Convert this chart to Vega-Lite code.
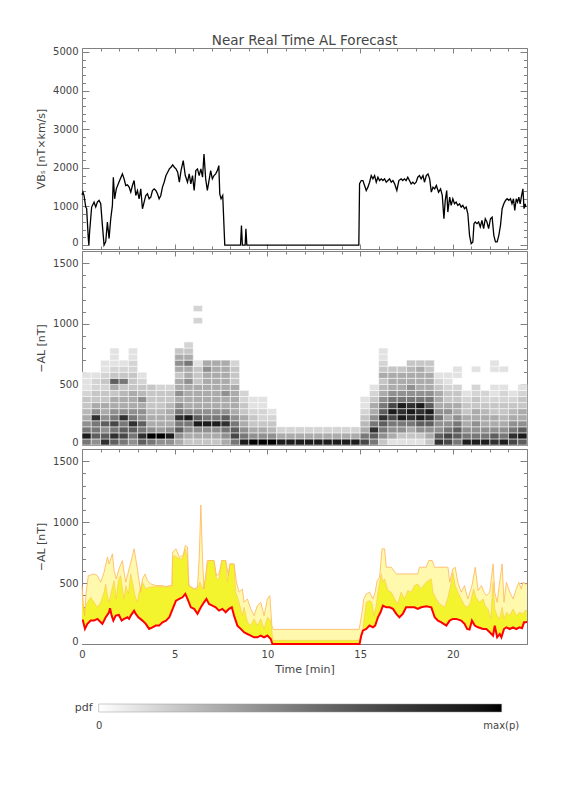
{
"$schema": "https://vega.github.io/schema/vega-lite/v6.json",
"background": "white",
"padding": {"left": 35, "top": 33, "right": 5, "bottom": 5},
"spacing": 0,
"config": {
  "font": "DejaVu Sans",
  "view": {"stroke": "#808080", "strokeWidth": 1},
  "axis": {"domain": false, "grid": false, "labelFont": "DejaVu Sans", "labelFontSize": 10, "labelColor": "#444", "tickColor": "#808080", "tickWidth": 1, "titleFont": "DejaVu Sans", "titleFontWeight": "normal", "titleFontSize": 11, "titleColor": "#444", "labelFlush": false, "labelOverlap": false, "zindex": 1},
  "title": {"font": "DejaVu Sans", "fontSize": 13.5, "fontWeight": "normal", "color": "#444"}
},
"datasets": {
  "vbs": [
    {"t":0,"v":1300},{"t":0.05,"v":1371},{"t":0.11,"v":1285},{"t":0.2,"v":985},{"t":0.25,"v":950},{"t":0.34,"v":170},{"t":0.37,"v":0},{"t":0.41,"v":340},{"t":0.52,"v":985},{"t":0.65,"v":1113},{"t":0.74,"v":985},{"t":0.83,"v":1113},{"t":0.92,"v":1156},{"t":1.01,"v":1070},{"t":1.1,"v":510},{"t":1.19,"v":0},{"t":1.28,"v":90},{"t":1.37,"v":600},{"t":1.46,"v":170},{"t":1.55,"v":683},{"t":1.64,"v":1027},{"t":1.69,"v":1757},{"t":1.76,"v":1199},{"t":1.85,"v":1456},{"t":1.99,"v":1628},{"t":2.18,"v":1843},{"t":2.27,"v":1714},{"t":2.36,"v":1542},{"t":2.45,"v":1560},{"t":2.54,"v":1500},{"t":2.63,"v":1371},{"t":2.72,"v":1542},{"t":2.81,"v":1671},{"t":2.9,"v":1285},{"t":2.99,"v":1414},{"t":3.08,"v":1199},{"t":3.17,"v":1456},{"t":3.26,"v":942},{"t":3.35,"v":1113},{"t":3.44,"v":1285},{"t":3.53,"v":1328},{"t":3.62,"v":1199},{"t":3.71,"v":1242},{"t":3.8,"v":1414},{"t":3.89,"v":1456},{"t":3.98,"v":1414},{"t":4.07,"v":1328},{"t":4.16,"v":1199},{"t":4.25,"v":1285},{"t":4.34,"v":1500},{"t":4.43,"v":1628},{"t":4.53,"v":1800},{"t":4.62,"v":1886},{"t":4.71,"v":1972},{"t":4.8,"v":2015},{"t":4.89,"v":2075},{"t":4.98,"v":2015},{"t":5.07,"v":1972},{"t":5.16,"v":1886},{"t":5.25,"v":1628},{"t":5.34,"v":1929},{"t":5.46,"v":2187},{"t":5.57,"v":1800},{"t":5.69,"v":1628},{"t":5.78,"v":1843},{"t":5.87,"v":1585},{"t":5.96,"v":1800},{"t":6.05,"v":1414},{"t":6.14,"v":1929},{"t":6.23,"v":1972},{"t":6.32,"v":1800},{"t":6.41,"v":1972},{"t":6.5,"v":1757},{"t":6.58,"v":2358},{"t":6.67,"v":1714},{"t":6.76,"v":1414},{"t":6.85,"v":1671},{"t":6.94,"v":1929},{"t":7.03,"v":1714},{"t":7.12,"v":1800},{"t":7.21,"v":1843},{"t":7.3,"v":1929},{"t":7.38,"v":2058},{"t":7.43,"v":1328},{"t":7.5,"v":1199},{"t":7.59,"v":1285},{"t":7.7,"v":0},{"t":8.55,"v":0},{"t":8.6,"v":510},{"t":8.65,"v":0},{"t":8.8,"v":0},{"t":8.84,"v":425},{"t":8.89,"v":0},{"t":14.93,"v":0},{"t":14.97,"v":1588},{"t":15.06,"v":1671},{"t":15.15,"v":1671},{"t":15.24,"v":1542},{"t":15.33,"v":1414},{"t":15.42,"v":1500},{"t":15.51,"v":1628},{"t":15.6,"v":1800},{"t":15.69,"v":1714},{"t":15.78,"v":1800},{"t":15.87,"v":1628},{"t":15.96,"v":1757},{"t":16.05,"v":1671},{"t":16.14,"v":1714},{"t":16.23,"v":1671},{"t":16.32,"v":1714},{"t":16.41,"v":1628},{"t":16.5,"v":1671},{"t":16.59,"v":1714},{"t":16.68,"v":1628},{"t":16.77,"v":1671},{"t":16.86,"v":1585},{"t":16.98,"v":1414},{"t":17.09,"v":1671},{"t":17.21,"v":1714},{"t":17.3,"v":1671},{"t":17.39,"v":1714},{"t":17.48,"v":1671},{"t":17.57,"v":1757},{"t":17.66,"v":1671},{"t":17.75,"v":1585},{"t":17.84,"v":1628},{"t":17.93,"v":1585},{"t":18.02,"v":1628},{"t":18.11,"v":1757},{"t":18.2,"v":1800},{"t":18.29,"v":1714},{"t":18.39,"v":1800},{"t":18.47,"v":1628},{"t":18.57,"v":1800},{"t":18.66,"v":1843},{"t":18.75,"v":1714},{"t":18.84,"v":1371},{"t":18.93,"v":1500},{"t":19.02,"v":1456},{"t":19.11,"v":1542},{"t":19.23,"v":1371},{"t":19.34,"v":1456},{"t":19.43,"v":1285},{"t":19.52,"v":683},{"t":19.59,"v":1156},{"t":19.67,"v":1414},{"t":19.73,"v":855},{"t":19.83,"v":1242},{"t":19.91,"v":1027},{"t":20.0,"v":1199},{"t":20.09,"v":1070},{"t":20.18,"v":1113},{"t":20.27,"v":1027},{"t":20.36,"v":1070},{"t":20.45,"v":985},{"t":20.54,"v":1027},{"t":20.63,"v":942},{"t":20.72,"v":985},{"t":20.81,"v":812},{"t":20.9,"v":254},{"t":20.99,"v":39},{"t":21.08,"v":82},{"t":21.14,"v":555},{"t":21.21,"v":597},{"t":21.3,"v":555},{"t":21.39,"v":597},{"t":21.48,"v":469},{"t":21.57,"v":640},{"t":21.66,"v":426},{"t":21.75,"v":683},{"t":21.84,"v":597},{"t":21.93,"v":426},{"t":22.03,"v":683},{"t":22.12,"v":726},{"t":22.21,"v":254},{"t":22.3,"v":82},{"t":22.39,"v":82},{"t":22.48,"v":254},{"t":22.57,"v":512},{"t":22.66,"v":942},{"t":22.75,"v":1070},{"t":22.84,"v":1156},{"t":22.93,"v":1199},{"t":23.02,"v":1156},{"t":23.11,"v":1199},{"t":23.19,"v":1070},{"t":23.27,"v":1199},{"t":23.34,"v":898},{"t":23.42,"v":1199},{"t":23.49,"v":1113},{"t":23.56,"v":1242},{"t":23.63,"v":1070},{"t":23.71,"v":1285},{"t":23.78,"v":1456},{"t":23.84,"v":942},{"t":23.9,"v":1070},{"t":23.94,"v":985}
  ],
  "bins": [
    {"key":"b0","lo":0,"hi":50},{"key":"b1","lo":50,"hi":100},{"key":"b2","lo":100,"hi":150},{"key":"b3","lo":150,"hi":200},{"key":"b4","lo":200,"hi":250},{"key":"b5","lo":250,"hi":300},{"key":"b6","lo":300,"hi":350},{"key":"b7","lo":350,"hi":400},{"key":"b8","lo":400,"hi":450},{"key":"b9","lo":450,"hi":500},{"key":"b10","lo":500,"hi":550},{"key":"b11","lo":550,"hi":600},{"key":"b12","lo":600,"hi":650},{"key":"b13","lo":650,"hi":700},{"key":"b14","lo":700,"hi":750},{"key":"b15","lo":750,"hi":800},{"key":"b16","lo":800,"hi":850},{"key":"b20","lo":1000,"hi":1050},{"key":"b22","lo":1100,"hi":1150}
  ],
  "heat": [
    {"t0":0,"t1":0.5,"b0":0.5,"b1":0.9,"b2":0.5,"b3":0.4,"b4":0.3,"b5":0.25,"b6":0.2,"b7":0.2,"b8":0.15,"b9":0.1,"b10":0.1,"b11":0.1},
    {"t0":0.5,"t1":1,"b0":0.4,"b1":0.6,"b2":0.5,"b3":0.5,"b4":0.8,"b5":0.4,"b6":0.3,"b7":0.2,"b8":0.2,"b9":0.15,"b10":0.15,"b11":0.1},
    {"t0":1,"t1":1.5,"b0":0.8,"b1":0.6,"b2":0.4,"b3":0.6,"b4":0.4,"b5":0.3,"b6":0.3,"b7":0.2,"b8":0.2,"b9":0.15,"b10":0.2,"b11":0.15,"b12":0.1,"b13":0.1},
    {"t0":1.5,"t1":2,"b0":0.6,"b1":0.8,"b2":0.5,"b3":0.7,"b4":0.5,"b5":0.4,"b6":0.3,"b7":0.3,"b8":0.2,"b9":0.3,"b10":0.6,"b11":0.2,"b12":0.15,"b13":0.1,"b14":0.1,"b15":0.1},
    {"t0":2,"t1":2.5,"b0":0.5,"b1":0.7,"b2":0.6,"b3":0.5,"b4":0.8,"b5":0.4,"b6":0.3,"b7":0.3,"b8":0.25,"b9":0.2,"b10":0.5,"b11":0.2,"b12":0.15,"b13":0.1},
    {"t0":2.5,"t1":3,"b0":0.4,"b1":0.5,"b2":0.6,"b3":0.8,"b4":0.5,"b5":0.4,"b6":0.3,"b7":0.3,"b8":0.3,"b9":0.2,"b10":0.2,"b11":0.2,"b12":0.15,"b13":0.15,"b14":0.1,"b15":0.1},
    {"t0":3,"t1":3.5,"b0":0.6,"b1":0.8,"b2":0.5,"b3":0.6,"b4":0.4,"b5":0.4,"b6":0.3,"b7":0.4,"b8":0.25,"b9":0.2,"b10":0.15,"b11":0.1},
    {"t0":3.5,"t1":4,"b0":0.5,"b1":1,"b2":0.4,"b3":0.3,"b4":0.3,"b5":0.25,"b6":0.2,"b7":0.2,"b8":0.2,"b9":0.2},
    {"t0":4,"t1":4.5,"b0":0.4,"b1":1,"b2":0.35,"b3":0.3,"b4":0.3,"b5":0.25,"b6":0.2,"b7":0.2,"b8":0.2,"b9":0.15},
    {"t0":4.5,"t1":5,"b0":0.4,"b1":0.9,"b2":0.4,"b3":0.3,"b4":0.3,"b5":0.3,"b6":0.25,"b7":0.2,"b8":0.2,"b9":0.15},
    {"t0":5,"t1":5.5,"b0":0.3,"b1":0.4,"b2":0.6,"b3":0.5,"b4":0.8,"b5":0.5,"b6":0.4,"b7":0.3,"b8":0.4,"b9":0.3,"b10":0.3,"b11":0.2,"b12":0.3,"b13":0.4,"b14":0.3,"b15":0.2},
    {"t0":5.5,"t1":6,"b0":0.2,"b1":0.3,"b2":0.4,"b3":0.5,"b4":0.9,"b5":0.4,"b6":0.3,"b7":0.3,"b8":0.3,"b9":0.3,"b10":0.4,"b11":0.3,"b12":0.3,"b13":0.5,"b14":0.3,"b15":0.2,"b16":0.15},
    {"t0":6,"t1":6.5,"b0":0.2,"b1":0.3,"b2":0.4,"b3":0.9,"b4":0.6,"b5":0.4,"b6":0.3,"b7":0.3,"b8":0.3,"b9":0.3,"b10":0.2,"b11":0.2,"b12":0.2,"b13":0.1,"b20":0.15,"b22":0.15},
    {"t0":6.5,"t1":7,"b0":0.2,"b1":0.3,"b2":0.4,"b3":0.9,"b4":0.5,"b5":0.4,"b6":0.3,"b7":0.3,"b8":0.3,"b9":0.3,"b10":0.3,"b11":0.3,"b12":0.4,"b13":0.3},
    {"t0":7,"t1":7.5,"b0":0.2,"b1":0.3,"b2":0.4,"b3":0.9,"b4":0.5,"b5":0.4,"b6":0.3,"b7":0.3,"b8":0.3,"b9":0.3,"b10":0.3,"b11":0.3,"b12":0.3,"b13":0.3},
    {"t0":7.5,"t1":8,"b0":0.3,"b1":0.4,"b2":0.5,"b3":0.8,"b4":0.6,"b5":0.4,"b6":0.3,"b7":0.3,"b8":0.4,"b9":0.3,"b10":0.3,"b11":0.3,"b12":0.3,"b13":0.3},
    {"t0":8,"t1":8.5,"b0":0.5,"b1":0.7,"b2":0.6,"b3":0.5,"b4":0.4,"b5":0.3,"b6":0.3,"b7":0.3,"b8":0.3,"b9":0.3,"b10":0.2,"b11":0.2,"b12":0.2,"b13":0.15},
    {"t0":8.5,"t1":9,"b0":0.9,"b1":0.5,"b2":0.4,"b3":0.3,"b4":0.3,"b5":0.2,"b6":0.2,"b7":0.15,"b8":0.15},
    {"t0":9,"t1":9.5,"b0":1,"b1":0.4,"b2":0.3,"b3":0.2,"b4":0.2,"b5":0.15,"b6":0.1,"b7":0.1},
    {"t0":9.5,"t1":10,"b0":1,"b1":0.4,"b2":0.3,"b3":0.2,"b4":0.15,"b5":0.15,"b6":0.1,"b7":0.1},
    {"t0":10,"t1":10.5,"b0":1,"b1":0.4,"b2":0.25,"b3":0.2,"b4":0.15,"b5":0.1},
    {"t0":10.5,"t1":11,"b0":0.9,"b1":0.3,"b2":0.15},
    {"t0":11,"t1":11.5,"b0":0.9,"b1":0.3,"b2":0.15},
    {"t0":11.5,"t1":12,"b0":0.9,"b1":0.3,"b2":0.15},
    {"t0":12,"t1":12.5,"b0":0.9,"b1":0.3,"b2":0.15},
    {"t0":12.5,"t1":13,"b0":0.9,"b1":0.3,"b2":0.15},
    {"t0":13,"t1":13.5,"b0":0.9,"b1":0.3,"b2":0.15},
    {"t0":13.5,"t1":14,"b0":0.9,"b1":0.3,"b2":0.15},
    {"t0":14,"t1":14.5,"b0":0.9,"b1":0.3,"b2":0.15},
    {"t0":14.5,"t1":15,"b0":0.9,"b1":0.3,"b2":0.15},
    {"t0":15,"t1":15.5,"b0":0.7,"b1":0.5,"b2":0.3,"b3":0.25,"b4":0.2,"b5":0.15,"b6":0.1,"b7":0.1},
    {"t0":15.5,"t1":16,"b0":0.5,"b1":0.6,"b2":0.8,"b3":0.5,"b4":0.4,"b5":0.3,"b6":0.3,"b7":0.2,"b8":0.15,"b9":0.1},
    {"t0":16,"t1":16.5,"b0":0.2,"b1":0.4,"b2":0.5,"b3":0.6,"b4":0.8,"b5":0.6,"b6":0.5,"b7":0.4,"b8":0.3,"b9":0.25,"b10":0.2,"b11":0.3,"b12":0.2,"b13":0.15,"b14":0.1,"b15":0.1},
    {"t0":16.5,"t1":17,"b0":0.1,"b1":0.3,"b2":0.4,"b3":0.5,"b4":0.7,"b5":0.9,"b6":0.7,"b7":0.5,"b8":0.4,"b9":0.3,"b10":0.3,"b11":0.3,"b12":0.2},
    {"t0":17,"t1":17.5,"b0":0.1,"b1":0.2,"b2":0.4,"b3":0.5,"b4":0.9,"b5":0.8,"b6":0.9,"b7":0.5,"b8":0.4,"b9":0.3,"b10":0.3,"b11":0.3,"b12":0.2},
    {"t0":17.5,"t1":18,"b0":0.1,"b1":0.2,"b2":0.3,"b3":0.5,"b4":0.8,"b5":0.9,"b6":0.8,"b7":0.5,"b8":0.4,"b9":0.4,"b10":0.3,"b11":0.3,"b12":0.25,"b13":0.2},
    {"t0":18,"t1":18.5,"b0":0.1,"b1":0.2,"b2":0.4,"b3":0.6,"b4":0.9,"b5":0.8,"b6":0.9,"b7":0.5,"b8":0.4,"b9":0.3,"b10":0.3,"b11":0.3,"b12":0.3,"b13":0.2},
    {"t0":18.5,"t1":19,"b0":0.2,"b1":0.3,"b2":0.4,"b3":0.6,"b4":0.8,"b5":0.9,"b6":0.6,"b7":0.5,"b8":0.4,"b9":0.3,"b10":0.3,"b11":0.3,"b12":0.2,"b13":0.2},
    {"t0":19,"t1":19.5,"b0":0.8,"b1":0.6,"b2":0.4,"b3":0.4,"b4":0.5,"b5":0.4,"b6":0.3,"b7":0.3,"b8":0.3,"b9":0.2,"b10":0.15,"b11":0.1},
    {"t0":19.5,"t1":20,"b0":0.7,"b1":0.7,"b2":0.5,"b3":0.4,"b4":0.3,"b5":0.4,"b6":0.3,"b7":0.2,"b8":0.2,"b9":0.15,"b10":0.1,"b11":0.1},
    {"t0":20,"t1":20.5,"b0":0.5,"b1":0.6,"b2":0.6,"b3":0.5,"b4":0.4,"b5":0.3,"b6":0.3,"b7":0.2,"b8":0.2,"b9":0.15,"b11":0.1,"b12":0.1},
    {"t0":20.5,"t1":21,"b0":0.9,"b1":0.5,"b2":0.4,"b3":0.3,"b4":0.3,"b5":0.2,"b6":0.2,"b7":0.15,"b8":0.1},
    {"t0":21,"t1":21.5,"b0":0.9,"b1":0.5,"b2":0.4,"b3":0.4,"b4":0.3,"b5":0.3,"b6":0.2,"b7":0.2,"b8":0.15,"b9":0.15,"b12":0.1},
    {"t0":21.5,"t1":22,"b0":0.9,"b1":0.5,"b2":0.4,"b3":0.3,"b4":0.3,"b5":0.25,"b6":0.2,"b7":0.15,"b8":0.15},
    {"t0":22,"t1":22.5,"b0":0.8,"b1":0.6,"b2":0.4,"b3":0.3,"b4":0.3,"b5":0.2,"b6":0.2,"b7":0.15,"b8":0.1,"b9":0.1,"b12":0.1,"b13":0.1},
    {"t0":22.5,"t1":23,"b0":0.9,"b1":0.5,"b2":0.4,"b3":0.3,"b4":0.25,"b5":0.2,"b6":0.2,"b7":0.15,"b8":0.15,"b9":0.1,"b12":0.1},
    {"t0":23,"t1":23.5,"b0":0.7,"b1":0.8,"b2":0.5,"b3":0.4,"b4":0.3,"b5":0.25,"b6":0.2,"b7":0.15,"b8":0.1},
    {"t0":23.5,"t1":24,"b0":0.6,"b1":0.9,"b2":0.6,"b3":0.4,"b4":0.3,"b5":0.3,"b6":0.2,"b7":0.2,"b8":0.15,"b9":0.1}
  ],
  "light": [
    {"t":0,"v":480},{"t":0.08,"v":300},{"t":0.14,"v":230},{"t":0.22,"v":420},{"t":0.34,"v":561},{"t":0.65,"v":575},{"t":0.83,"v":561},{"t":1.01,"v":507},{"t":1.19,"v":589},{"t":1.37,"v":712},{"t":1.46,"v":657},{"t":1.64,"v":740},{"t":1.73,"v":603},{"t":1.85,"v":534},{"t":1.99,"v":616},{"t":2.18,"v":685},{"t":2.27,"v":589},{"t":2.36,"v":507},{"t":2.54,"v":616},{"t":2.68,"v":699},{"t":2.81,"v":781},{"t":2.9,"v":699},{"t":3.04,"v":561},{"t":3.17,"v":425},{"t":3.26,"v":534},{"t":3.4,"v":575},{"t":3.53,"v":520},{"t":3.71,"v":493},{"t":3.98,"v":480},{"t":4.34,"v":480},{"t":4.53,"v":470},{"t":4.71,"v":480},{"t":4.85,"v":480},{"t":4.89,"v":754},{"t":5.07,"v":781},{"t":5.25,"v":712},{"t":5.46,"v":726},{"t":5.57,"v":808},{"t":5.69,"v":795},{"t":5.75,"v":480},{"t":6.05,"v":452},{"t":6.23,"v":466},{"t":6.32,"v":699},{"t":6.41,"v":1140},{"t":6.5,"v":699},{"t":6.58,"v":452},{"t":6.7,"v":600},{"t":6.76,"v":685},{"t":7.12,"v":685},{"t":7.25,"v":561},{"t":7.39,"v":575},{"t":7.54,"v":685},{"t":7.75,"v":685},{"t":7.9,"v":561},{"t":7.97,"v":657},{"t":8.2,"v":657},{"t":8.33,"v":507},{"t":8.47,"v":425},{"t":8.65,"v":452},{"t":8.74,"v":342},{"t":8.92,"v":370},{"t":9.1,"v":288},{"t":9.28,"v":233},{"t":9.46,"v":315},{"t":9.64,"v":342},{"t":9.82,"v":233},{"t":10.0,"v":370},{"t":10.13,"v":397},{"t":10.24,"v":151},{"t":10.31,"v":120},{"t":14.95,"v":120},{"t":15.1,"v":260},{"t":15.2,"v":370},{"t":15.33,"v":411},{"t":15.51,"v":425},{"t":15.69,"v":370},{"t":15.81,"v":425},{"t":15.92,"v":520},{"t":16.05,"v":548},{"t":16.18,"v":781},{"t":16.32,"v":781},{"t":16.41,"v":630},{"t":16.68,"v":630},{"t":16.95,"v":575},{"t":18.11,"v":575},{"t":18.2,"v":630},{"t":18.57,"v":630},{"t":18.7,"v":685},{"t":18.88,"v":685},{"t":19.02,"v":630},{"t":19.74,"v":630},{"t":19.83,"v":507},{"t":20.0,"v":616},{"t":20.13,"v":630},{"t":20.27,"v":507},{"t":20.45,"v":425},{"t":20.63,"v":479},{"t":20.81,"v":370},{"t":21.03,"v":479},{"t":21.21,"v":630},{"t":21.36,"v":438},{"t":21.54,"v":479},{"t":21.68,"v":425},{"t":21.81,"v":397},{"t":21.99,"v":425},{"t":22.17,"v":657},{"t":22.26,"v":425},{"t":22.39,"v":342},{"t":22.5,"v":479},{"t":22.66,"v":657},{"t":22.76,"v":342},{"t":22.89,"v":507},{"t":23.07,"v":425},{"t":23.25,"v":370},{"t":23.42,"v":452},{"t":23.56,"v":507},{"t":23.69,"v":452},{"t":23.78,"v":507},{"t":23.91,"v":493},{"t":24,"v":493}
  ],
  "yel": [
    {"t":0,"v":430},{"t":0.08,"v":300},{"t":0.16,"v":288},{"t":0.29,"v":342},{"t":0.47,"v":383},{"t":0.65,"v":342},{"t":0.83,"v":301},{"t":1.01,"v":342},{"t":1.19,"v":425},{"t":1.28,"v":493},{"t":1.37,"v":397},{"t":1.46,"v":342},{"t":1.64,"v":466},{"t":1.73,"v":520},{"t":1.85,"v":370},{"t":1.96,"v":520},{"t":2.09,"v":561},{"t":2.18,"v":452},{"t":2.27,"v":370},{"t":2.36,"v":479},{"t":2.5,"v":411},{"t":2.63,"v":575},{"t":2.72,"v":507},{"t":2.86,"v":397},{"t":2.99,"v":342},{"t":3.08,"v":425},{"t":3.26,"v":507},{"t":3.44,"v":452},{"t":3.62,"v":466},{"t":3.8,"v":470},{"t":4.3,"v":470},{"t":4.7,"v":470},{"t":4.85,"v":470},{"t":4.89,"v":699},{"t":4.98,"v":726},{"t":5.25,"v":699},{"t":5.42,"v":699},{"t":5.57,"v":781},{"t":5.69,"v":699},{"t":5.78,"v":479},{"t":6.05,"v":452},{"t":6.23,"v":452},{"t":6.36,"v":507},{"t":6.5,"v":452},{"t":6.68,"v":534},{"t":6.76,"v":657},{"t":6.85,"v":685},{"t":7.12,"v":685},{"t":7.25,"v":534},{"t":7.39,"v":534},{"t":7.54,"v":685},{"t":7.75,"v":685},{"t":7.84,"v":507},{"t":7.97,"v":657},{"t":8.2,"v":657},{"t":8.29,"v":425},{"t":8.47,"v":342},{"t":8.65,"v":233},{"t":8.74,"v":301},{"t":8.92,"v":178},{"t":9.1,"v":151},{"t":9.28,"v":206},{"t":9.46,"v":151},{"t":9.64,"v":206},{"t":9.82,"v":124},{"t":10.0,"v":219},{"t":10.18,"v":192},{"t":10.27,"v":60},{"t":10.31,"v":30},{"t":14.95,"v":30},{"t":15.15,"v":123},{"t":15.33,"v":342},{"t":15.51,"v":356},{"t":15.63,"v":342},{"t":15.75,"v":233},{"t":15.87,"v":315},{"t":15.96,"v":425},{"t":16.05,"v":507},{"t":16.14,"v":575},{"t":16.23,"v":507},{"t":16.32,"v":534},{"t":16.5,"v":438},{"t":16.68,"v":425},{"t":16.86,"v":370},{"t":17.03,"v":329},{"t":17.21,"v":425},{"t":17.39,"v":370},{"t":17.57,"v":438},{"t":17.75,"v":425},{"t":17.93,"v":479},{"t":18.11,"v":493},{"t":18.29,"v":452},{"t":18.47,"v":493},{"t":18.66,"v":520},{"t":18.84,"v":534},{"t":18.93,"v":425},{"t":19.11,"v":370},{"t":19.29,"v":329},{"t":19.56,"v":301},{"t":19.74,"v":383},{"t":19.88,"v":479},{"t":20.0,"v":589},{"t":20.13,"v":479},{"t":20.27,"v":425},{"t":20.45,"v":370},{"t":20.63,"v":315},{"t":20.81,"v":301},{"t":20.95,"v":342},{"t":21.12,"v":452},{"t":21.25,"v":383},{"t":21.43,"v":342},{"t":21.63,"v":370},{"t":21.75,"v":315},{"t":21.9,"v":288},{"t":22.04,"v":206},{"t":22.17,"v":507},{"t":22.26,"v":288},{"t":22.39,"v":233},{"t":22.53,"v":206},{"t":22.66,"v":301},{"t":22.76,"v":206},{"t":22.89,"v":260},{"t":23.07,"v":233},{"t":23.25,"v":288},{"t":23.42,"v":233},{"t":23.6,"v":260},{"t":23.78,"v":247},{"t":23.91,"v":274},{"t":24,"v":274}
  ],
  "red": [
    {"t":0,"v":192},{"t":0.05,"v":192},{"t":0.16,"v":124},{"t":0.29,"v":165},{"t":0.47,"v":192},{"t":0.65,"v":192},{"t":0.83,"v":206},{"t":1.01,"v":178},{"t":1.1,"v":165},{"t":1.28,"v":219},{"t":1.46,"v":260},{"t":1.51,"v":293},{"t":1.6,"v":233},{"t":1.69,"v":192},{"t":1.82,"v":233},{"t":1.99,"v":238},{"t":2.14,"v":192},{"t":2.27,"v":206},{"t":2.45,"v":219},{"t":2.54,"v":206},{"t":2.63,"v":233},{"t":2.81,"v":274},{"t":2.9,"v":247},{"t":3.04,"v":219},{"t":3.26,"v":192},{"t":3.44,"v":165},{"t":3.62,"v":124},{"t":3.8,"v":137},{"t":3.98,"v":151},{"t":4.16,"v":151},{"t":4.34,"v":178},{"t":4.53,"v":192},{"t":4.71,"v":219},{"t":4.89,"v":288},{"t":5.07,"v":356},{"t":5.25,"v":370},{"t":5.42,"v":383},{"t":5.57,"v":411},{"t":5.69,"v":370},{"t":5.87,"v":301},{"t":6.05,"v":288},{"t":6.23,"v":247},{"t":6.41,"v":301},{"t":6.58,"v":342},{"t":6.71,"v":370},{"t":6.85,"v":329},{"t":7.03,"v":315},{"t":7.21,"v":301},{"t":7.39,"v":274},{"t":7.57,"v":288},{"t":7.75,"v":260},{"t":7.93,"v":288},{"t":8.08,"v":301},{"t":8.2,"v":233},{"t":8.38,"v":151},{"t":8.56,"v":124},{"t":8.74,"v":96},{"t":8.92,"v":82},{"t":9.1,"v":69},{"t":9.28,"v":55},{"t":9.46,"v":55},{"t":9.64,"v":69},{"t":9.82,"v":55},{"t":10.0,"v":69},{"t":10.18,"v":41},{"t":10.27,"v":0},{"t":14.97,"v":0},{"t":15.06,"v":68},{"t":15.15,"v":110},{"t":15.33,"v":123},{"t":15.51,"v":151},{"t":15.69,"v":137},{"t":15.81,"v":151},{"t":15.96,"v":219},{"t":16.1,"v":260},{"t":16.23,"v":315},{"t":16.41,"v":301},{"t":16.59,"v":301},{"t":16.77,"v":288},{"t":16.95,"v":247},{"t":17.12,"v":219},{"t":17.3,"v":247},{"t":17.48,"v":301},{"t":17.66,"v":301},{"t":17.93,"v":301},{"t":18.11,"v":288},{"t":18.29,"v":301},{"t":18.57,"v":310},{"t":18.84,"v":301},{"t":19.02,"v":219},{"t":19.2,"v":192},{"t":19.38,"v":178},{"t":19.65,"v":151},{"t":19.83,"v":192},{"t":20.0,"v":206},{"t":20.18,"v":206},{"t":20.45,"v":192},{"t":20.63,"v":165},{"t":20.77,"v":123},{"t":20.9,"v":118},{"t":21.03,"v":192},{"t":21.18,"v":151},{"t":21.36,"v":137},{"t":21.63,"v":123},{"t":21.81,"v":123},{"t":21.99,"v":96},{"t":22.17,"v":68},{"t":22.26,"v":151},{"t":22.39,"v":55},{"t":22.53,"v":82},{"t":22.62,"v":55},{"t":22.76,"v":123},{"t":22.89,"v":137},{"t":23.07,"v":123},{"t":23.25,"v":137},{"t":23.42,"v":123},{"t":23.6,"v":137},{"t":23.73,"v":129},{"t":23.84,"v":178},{"t":23.91,"v":178},{"t":24,"v":180}
  ]
},
"vconcat": [
  {
    "width": 445, "height": 201,
    "title": {"text": "Near Real Time AL Forecast", "anchor": "middle", "frame": "group", "offset": -1},
    "data": {"name": "vbs"},
    "layer": [
      {"mark": {"type": "line", "color": "black", "strokeWidth": 1.3},
       "encoding": {
         "x": {"field": "t", "type": "quantitative", "scale": {"domain": [0, 24], "nice": false, "zero": false},
               "axis": {"orient": "bottom", "title": null, "labels": false, "values": [0,1,2,3,4,5,6,7,8,9,10,11,12,13,14,15,16,17,18,19,20,21,22,23,24], "tickSize": {"condition": {"test": "datum.value % 5 === 0", "value": -5}, "value": -3}}},
         "y": {"field": "v", "type": "quantitative", "scale": {"domain": [-100, 5100], "nice": false, "zero": false},
               "axis": {"orient": "left", "title": "VBₛ [nT×km/s]", "format": "d", "values": [0,200,400,600,800,1000,1200,1400,1600,1800,2000,2200,2400,2600,2800,3000,3200,3400,3600,3800,4000,4200,4400,4600,4800,5000], "labelExpr": "datum.value % 1000 === 0 ? datum.label : ''", "labelBaseline": {"condition": {"test": "datum.value === 0", "value": "alphabetic"}, "value": "middle"}, "tickSize": {"condition": {"test": "datum.value % 1000 === 0", "value": -7}, "value": -3.5}, "labelPadding": 11, "titlePadding": 6}}
       }},
      {"mark": {"type": "line", "opacity": 0},
       "encoding": {
         "x": {"field": "t", "type": "quantitative", "axis": {"orient": "top", "title": null, "labels": false, "values": [0,1,2,3,4,5,6,7,8,9,10,11,12,13,14,15,16,17,18,19,20,21,22,23,24], "tickSize": {"condition": {"test": "datum.value % 5 === 0", "value": -5}, "value": -3}}},
         "y": {"field": "v", "type": "quantitative", "axis": {"orient": "right", "title": null, "labels": false, "values": [0,200,400,600,800,1000,1200,1400,1600,1800,2000,2200,2400,2600,2800,3000,3200,3400,3600,3800,4000,4200,4400,4600,4800,5000], "tickSize": {"condition": {"test": "datum.value % 1000 === 0", "value": -7}, "value": -3.5}}}
       }}
    ],
    "resolve": {"axis": {"x": "independent", "y": "independent"}}
  },
  {
    "width": 445, "height": 194,
    "data": {"name": "heat"},
    "transform": [
      {"fold": ["b0","b1","b2","b3","b4","b5","b6","b7","b8","b9","b10","b11","b12","b13","b14","b15","b16","b20","b22"], "as": ["key", "p"]},
      {"filter": {"field": "p", "valid": true}},
      {"lookup": "key", "from": {"data": {"name": "bins"}, "key": "key", "fields": ["lo", "hi"]}}
    ],
    "layer": [
      {"mark": {"type": "rect", "stroke": "white", "strokeWidth": 0.5},
       "encoding": {
         "x": {"field": "t0", "type": "quantitative", "scale": {"domain": [0, 24], "nice": false, "zero": false},
               "axis": {"orient": "bottom", "title": null, "labels": false, "values": [0,1,2,3,4,5,6,7,8,9,10,11,12,13,14,15,16,17,18,19,20,21,22,23,24], "tickSize": {"condition": {"test": "datum.value % 5 === 0", "value": -5}, "value": -3}}},
         "x2": {"field": "t1"},
         "y": {"field": "lo", "type": "quantitative", "scale": {"domain": [0, 1600], "nice": false, "zero": false},
               "axis": {"orient": "left", "title": "−AL [nT]", "format": "d", "values": [0,100,200,300,400,500,600,700,800,900,1000,1100,1200,1300,1400,1500], "labelExpr": "datum.value % 500 === 0 ? datum.label : ''", "labelBaseline": {"condition": {"test": "datum.value === 0", "value": "alphabetic"}, "value": "middle"}, "tickSize": {"condition": {"test": "datum.value % 500 === 0", "value": -7}, "value": -3.5}, "labelPadding": 11, "titlePadding": 6}},
         "y2": {"field": "hi"},
         "color": {"field": "p", "type": "quantitative", "scale": {"domain": [-0.001, 1.001], "range": ["#ffffff", "#000000"]},
                   "legend": {"orient": "none", "legendX": -7.3, "legendY": 656, "direction": "horizontal", "title": "pdf", "titleOrient": "left", "titleFontSize": 11, "titleFontWeight": "normal", "titleColor": "#444", "titlePadding": 6, "gradientLength": 403, "gradientThickness": 8, "values": [0, 1], "labelExpr": "datum.value == 0 ? '0' : 'max(p)'", "labelOffset": 9, "labelFontSize": 10, "labelColor": "#444", "gradientStrokeColor": "#999", "gradientStrokeWidth": 0.5}}
       }},
      {"mark": {"type": "rect", "opacity": 0},
       "encoding": {
         "x": {"field": "t0", "type": "quantitative", "axis": {"orient": "top", "title": null, "labels": false, "values": [0,1,2,3,4,5,6,7,8,9,10,11,12,13,14,15,16,17,18,19,20,21,22,23,24], "tickSize": {"condition": {"test": "datum.value % 5 === 0", "value": -5}, "value": -3}}},
         "x2": {"field": "t1"},
         "y": {"field": "lo", "type": "quantitative", "axis": {"orient": "right", "title": null, "labels": false, "values": [0,100,200,300,400,500,600,700,800,900,1000,1100,1200,1300,1400,1500], "tickSize": {"condition": {"test": "datum.value % 500 === 0", "value": -7}, "value": -3.5}}},
         "y2": {"field": "hi"}
       }}
    ],
    "resolve": {"axis": {"x": "independent", "y": "independent"}}
  },
  {
    "width": 445, "height": 195,
    "layer": [
      {"data": {"name": "light"},
       "mark": {"type": "area", "color": "#FFF9AE"},
       "encoding": {
         "x": {"field": "t", "type": "quantitative", "scale": {"domain": [0, 24], "nice": false, "zero": false},
               "axis": {"orient": "bottom", "title": "Time [min]", "format": "d", "values": [0,1,2,3,4,5,6,7,8,9,10,11,12,13,14,15,16,17,18,19,20,21,22,23,24], "labelExpr": "datum.value % 5 === 0 ? datum.label : ''", "tickSize": {"condition": {"test": "datum.value % 5 === 0", "value": -5}, "value": -3}, "labelPadding": 10, "titlePadding": 2}},
         "y": {"field": "v", "type": "quantitative", "stack": null, "scale": {"domain": [0, 1600], "nice": false, "zero": false},
               "axis": {"orient": "left", "title": "−AL [nT]", "format": "d", "values": [0,100,200,300,400,500,600,700,800,900,1000,1100,1200,1300,1400,1500], "labelExpr": "datum.value % 500 === 0 ? datum.label : ''", "labelBaseline": {"condition": {"test": "datum.value === 0", "value": "alphabetic"}, "value": "middle"}, "tickSize": {"condition": {"test": "datum.value % 500 === 0", "value": -7}, "value": -3.5}, "labelPadding": 11, "titlePadding": 6}}
       }},
      {"data": {"name": "yel"},
       "mark": {"type": "area", "color": "#F4F42E"},
       "encoding": {
         "x": {"field": "t", "type": "quantitative", "axis": null},
         "y": {"field": "v", "type": "quantitative", "stack": null, "axis": null}
       }},
      {"data": {"name": "red"},
       "mark": {"type": "area", "color": "#ffffff"},
       "encoding": {
         "x": {"field": "t", "type": "quantitative", "axis": null},
         "y": {"field": "v", "type": "quantitative", "stack": null, "axis": null}
       }},
      {"data": {"name": "light"},
       "mark": {"type": "line", "color": "#FFB45A", "strokeWidth": 0.8},
       "encoding": {
         "x": {"field": "t", "type": "quantitative", "axis": null},
         "y": {"field": "v", "type": "quantitative", "axis": null}
       }},
      {"data": {"name": "yel"},
       "mark": {"type": "line", "color": "#FFC060", "strokeWidth": 0.6},
       "encoding": {
         "x": {"field": "t", "type": "quantitative", "axis": null},
         "y": {"field": "v", "type": "quantitative", "axis": null}
       }},
      {"data": {"name": "red"},
       "mark": {"type": "line", "color": "#FF0000", "strokeWidth": 2},
       "encoding": {
         "x": {"field": "t", "type": "quantitative", "axis": null},
         "y": {"field": "v", "type": "quantitative", "axis": null}
       }},
      {"data": {"name": "red"},
       "mark": {"type": "line", "opacity": 0},
       "encoding": {
         "x": {"field": "t", "type": "quantitative", "axis": {"orient": "top", "title": null, "labels": false, "values": [0,1,2,3,4,5,6,7,8,9,10,11,12,13,14,15,16,17,18,19,20,21,22,23,24], "tickSize": {"condition": {"test": "datum.value % 5 === 0", "value": -5}, "value": -3}}},
         "y": {"field": "v", "type": "quantitative", "axis": {"orient": "right", "title": null, "labels": false, "values": [0,100,200,300,400,500,600,700,800,900,1000,1100,1200,1300,1400,1500], "tickSize": {"condition": {"test": "datum.value % 500 === 0", "value": -7}, "value": -3.5}}}
       }}
    ],
    "resolve": {"axis": {"x": "independent", "y": "independent"}}
  }
]
}
